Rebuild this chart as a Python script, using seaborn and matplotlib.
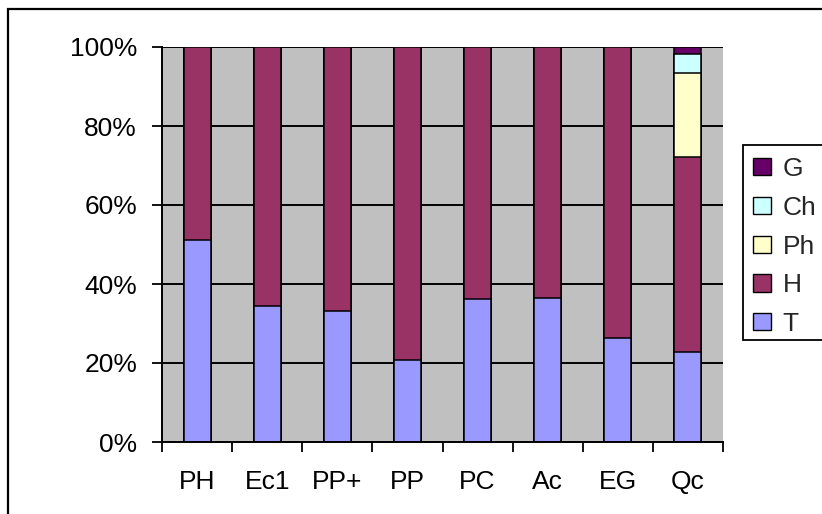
import matplotlib
matplotlib.use("Agg")
import matplotlib.pyplot as plt
from matplotlib.patches import Rectangle
import numpy as np
import pandas as pd
import seaborn as sns

# Share of each life form per site (percent of species)
categories = ["PH", "Ec1", "PP+", "PP", "PC", "Ac", "EG", "Qc"]
T = [51.1, 34.5, 33.2, 20.8, 36.1, 36.5, 26.4, 22.9]
H = [48.9, 65.5, 66.8, 79.2, 63.9, 63.5, 73.6, 49.3]
Ph = [0, 0, 0, 0, 0, 0, 0, 21.3]
Ch = [0, 0, 0, 0, 0, 0, 0, 4.7]
G = [0, 0, 0, 0, 0, 0, 0, 1.8]

series_names = ["T", "H", "Ph", "Ch", "G"]
series_values = [T, H, Ph, Ch, G]
series_colors = {"T": "#9999FF", "H": "#993366", "Ph": "#FFFFCC",
                 "Ch": "#CCFFFF", "G": "#660066"}

sns.set_style("white")
plt.rcParams["font.family"] = ["Liberation Sans", "DejaVu Sans"]
FS = 19

fig = plt.figure(figsize=(8.22, 5.14), dpi=100)
ax = fig.add_axes([162 / 822, 1 - 442 / 514, (723 - 162) / 822, (442 - 47) / 514])
ax.set_facecolor("#C0C0C0")

# cumulative stacks, drawn from the tallest (top series) down so each
# lower segment overlays the one above it
vals = np.array(series_values, dtype=float)
cum = np.cumsum(vals, axis=0)
for i in range(len(series_names) - 1, -1, -1):
    name = series_names[i]
    df = pd.DataFrame({"cat": categories, "val": cum[i]})
    sns.barplot(data=df, x="cat", y="val", ax=ax, color=series_colors[name],
                width=0.385, edgecolor="black", linewidth=1.1, label=name,
                saturation=1, errorbar=None, zorder=3)

handles, labels = ax.get_legend_handles_labels()
if ax.get_legend() is not None:
    ax.get_legend().remove()

ax.set_ylim(0, 100)
ax.set_xlim(-0.5, len(categories) - 0.5)
ax.set_yticks(np.arange(0, 101, 20))
ax.set_yticklabels([f"{v}%" for v in range(0, 101, 20)])
ax.yaxis.grid(True, color="black", linewidth=1.4, zorder=1)
ax.set_axisbelow(True)
ax.set_xlabel("")
ax.set_ylabel("")

ax.set_xticks(range(len(categories)))
ax.set_xticklabels(categories)
ax.set_xticks(np.arange(-0.5, len(categories), 1.0), minor=True)
ax.tick_params(axis="x", which="major", length=0, pad=20, labelsize=FS, colors="black")
ax.tick_params(axis="x", which="minor", length=7.5, width=1.3, direction="out",
               color="black", bottom=True)
ax.tick_params(axis="y", which="major", length=7.5, width=1.3, direction="out",
               pad=10.5, labelsize=FS, colors="black", left=True)

for s in ["top", "right"]:
    ax.spines[s].set_visible(False)
for s in ["left", "bottom"]:
    ax.spines[s].set_visible(True)
    ax.spines[s].set_color("black")
    ax.spines[s].set_linewidth(1.4)
    ax.spines[s].set_zorder(4)

# legend box on the right
fig.patches.append(Rectangle((743 / 822, 1 - 340 / 514), 0.2, (340 - 145) / 514,
                             transform=fig.transFigure, facecolor="white",
                             edgecolor="black", linewidth=1.3, zorder=1))
leg = fig.legend(handles, labels, loc="upper left",
                 bbox_to_anchor=(753 / 822, 1 - 157 / 514), frameon=False,
                 fontsize=FS, handlelength=0.7, handleheight=0.62,
                 handletextpad=0.42, labelspacing=0.56, borderpad=0.0,
                 borderaxespad=0.0)
for h in leg.legend_handles:
    h.set_edgecolor("black")
    h.set_linewidth(1.0)

# outer chart border
fig.patches.append(Rectangle((8 / 822, -0.1), 1.0, 1.1 - 9 / 514,
                             transform=fig.transFigure, facecolor="none",
                             edgecolor="black", linewidth=1.6, zorder=0))

fig.savefig("out.png", dpi=100, facecolor="white")
